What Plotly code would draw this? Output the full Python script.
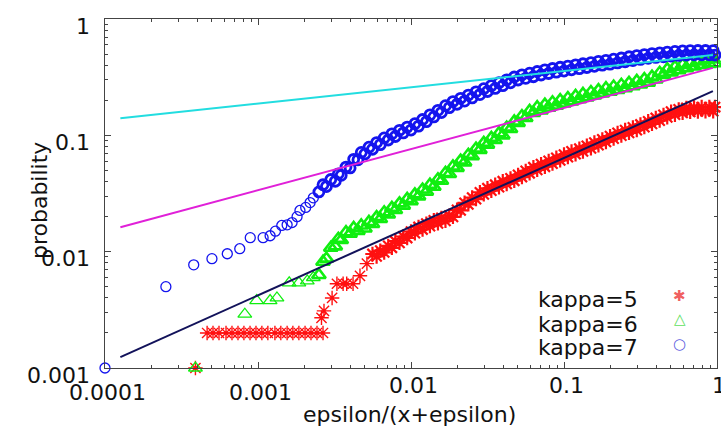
import math
import plotly.graph_objects as go

# ---------------- data ----------------
x_ticks = [0.0001, 0.001, 0.01, 0.1, 1]
x_tick_labels = ["0.0001", "0.001", "0.01", "0.1", "1"]
y_ticks = [0.001, 0.01, 0.1, 1]
y_tick_labels = ["0.001", "0.01", "0.1", "1"]

series_names = ["kappa=5", "kappa=6", "kappa=7"]

# epsilon/(x+epsilon) positions of the dense part of the curves (lower/centre edge of band)
x_dense = [0.0025, 0.0028, 0.0032, 0.0035, 0.0040, 0.0045, 0.0050, 0.0056, 0.0063, 0.0071,
           0.0079, 0.0089, 0.010, 0.0112, 0.0126, 0.0141, 0.0158, 0.0178, 0.020, 0.0224,
           0.0251, 0.0282, 0.0316, 0.0355, 0.0398, 0.0447, 0.0501, 0.0562, 0.0631, 0.0708,
           0.0794, 0.0891, 0.10, 0.112, 0.126, 0.141, 0.158, 0.178, 0.20, 0.224,
           0.251, 0.282, 0.316, 0.355, 0.398, 0.447, 0.501, 0.562, 0.631, 0.708,
           0.794, 0.891, 0.97]
# in-between positions (other edge of the band)
x_mid = [0.00266, 0.00299, 0.00335, 0.00376, 0.00422, 0.00473, 0.00531, 0.00596, 0.00668, 0.0075,
         0.00841, 0.00944, 0.0106, 0.0119, 0.0133, 0.0150, 0.0168, 0.0188, 0.0211, 0.0237,
         0.0266, 0.0299, 0.0335, 0.0376, 0.0422, 0.0473, 0.0531, 0.0596, 0.0668, 0.075,
         0.0841, 0.0944, 0.106, 0.119, 0.133, 0.150, 0.168, 0.188, 0.211, 0.237,
         0.266, 0.299, 0.335, 0.376, 0.422, 0.473, 0.531, 0.596, 0.668, 0.75,
         0.841, 0.944]

# kappa=5 (red asterisks)
k5_sparse_x = [0.00039, 0.000465, 0.000508, 0.000556, 0.000618, 0.000676, 0.00074, 0.000809,
               0.000887, 0.00097, 0.00106, 0.00116, 0.00129, 0.00141, 0.00155, 0.00169,
               0.00185, 0.00203, 0.00222, 0.00243, 0.00266, 0.0026, 0.0027, 0.00305,
               0.00328, 0.0036, 0.0038, 0.00418, 0.00464, 0.00515]
k5_sparse_y = [0.001, 0.002, 0.002, 0.002, 0.002, 0.002, 0.002, 0.002,
               0.002, 0.002, 0.002, 0.002, 0.002, 0.002, 0.002, 0.002,
               0.002, 0.002, 0.002, 0.002, 0.002, 0.0027, 0.0031, 0.0040,
               0.0053, 0.0053, 0.0053, 0.0053, 0.0062, 0.0079]
k5_dense_y = [0.00955, 0.0102, 0.0112, 0.0123, 0.0135, 0.0149, 0.0163, 0.0174, 0.0186, 0.0195,
              0.0204, 0.0229, 0.0263, 0.0292, 0.0324, 0.0351, 0.0376, 0.0403, 0.0427, 0.0457,
              0.0495, 0.0532, 0.0565, 0.0603, 0.0641, 0.0684, 0.0728, 0.0767, 0.0813, 0.0867,
              0.0923, 0.0984, 0.105, 0.111, 0.117, 0.124, 0.132, 0.141, 0.150, 0.160,
              0.167, 0.172, 0.174, 0.175, 0.175, 0.175]
k5_mid_y = [0.00909, 0.00984, 0.0108, 0.0119, 0.0131, 0.0144, 0.0155, 0.0166, 0.0175, 0.0184,
            0.0199, 0.0226, 0.0255, 0.0283, 0.0311, 0.0334, 0.0358, 0.0382, 0.0407, 0.0438,
            0.0472, 0.0505, 0.0537, 0.0572, 0.0610, 0.0650, 0.0688, 0.0727, 0.0773, 0.0823,
            0.0877, 0.0936, 0.0994, 0.1049, 0.1109, 0.1178, 0.1256, 0.1339, 0.1426, 0.1504,
            0.1559, 0.1592, 0.1605, 0.1610, 0.1610]

# kappa=6 (green triangles)
k6_sparse_x = [0.00039, 0.00082, 0.00098, 0.0012, 0.00133, 0.0016, 0.00185, 0.0021, 0.0023]
k6_sparse_y = [0.001, 0.0029, 0.0038, 0.0038, 0.0040, 0.0054, 0.0054, 0.0056, 0.0060]
k6_dense_y = [0.00631, 0.00871, 0.0111, 0.0126, 0.0143, 0.0151, 0.0158, 0.0173, 0.0191, 0.0209,
              0.0228, 0.0249, 0.0272, 0.0299, 0.0328, 0.0361, 0.0407, 0.0465, 0.0525, 0.0586,
              0.0661, 0.0750, 0.0832, 0.0912, 0.100, 0.1135, 0.128, 0.141, 0.156, 0.164,
              0.173, 0.180, 0.188, 0.196, 0.204, 0.212, 0.220, 0.229, 0.237, 0.245,
              0.254, 0.264, 0.274, 0.284, 0.302, 0.331, 0.348, 0.363, 0.378, 0.391,
              0.402, 0.411, 0.417]
k6_mid_y = [0.00819, 0.0108, 0.0129, 0.0147, 0.0160, 0.0168, 0.0180, 0.0198, 0.0218, 0.0238,
            0.0260, 0.0284, 0.0311, 0.0342, 0.0376, 0.0419, 0.0475, 0.0540, 0.0606, 0.0680,
            0.0769, 0.0862, 0.0950, 0.1042, 0.1164, 0.1316, 0.1466, 0.1619, 0.1744, 0.1837,
            0.1924, 0.2006, 0.2093, 0.2180, 0.2267, 0.2354, 0.2447, 0.2540, 0.2627, 0.2720,
            0.2823, 0.2932, 0.3041, 0.3194, 0.3450, 0.3701, 0.3875, 0.4038, 0.4191, 0.4322,
            0.4431, 0.4513]

# kappa=7 (blue circles)
k7_sparse_x = [0.0001, 0.00025, 0.00038, 0.0005, 0.00063, 0.00076, 0.00089, 0.00108, 0.0012,
               0.0013, 0.00143, 0.00155, 0.00167, 0.0018, 0.00188, 0.00205, 0.00219, 0.0023]
k7_sparse_y = [0.001, 0.0050, 0.0077, 0.0087, 0.0096, 0.0106, 0.0132, 0.0132, 0.0137,
               0.0150, 0.0168, 0.0170, 0.0178, 0.0200, 0.0226, 0.0240, 0.0264, 0.0290]
k7_dense_y = [0.0326, 0.0363, 0.0403, 0.0453, 0.0525, 0.0617, 0.0692, 0.0759, 0.0832, 0.0912,
              0.0977, 0.105, 0.111, 0.120, 0.131, 0.144, 0.157, 0.173, 0.185, 0.197,
              0.210, 0.224, 0.238, 0.253, 0.267, 0.283, 0.299, 0.309, 0.319, 0.330,
              0.340, 0.349, 0.357, 0.366, 0.374, 0.383, 0.392, 0.401, 0.409, 0.419,
              0.429, 0.440, 0.449, 0.459, 0.467, 0.473, 0.480, 0.486, 0.490, 0.492,
              0.492, 0.492, 0.490]
k7_mid_y = [0.0376, 0.0417, 0.0467, 0.0533, 0.0622, 0.0713, 0.0791, 0.0867, 0.0950, 0.1030,
            0.1105, 0.1177, 0.1259, 0.1368, 0.1499, 0.1640, 0.1799, 0.1951, 0.2082, 0.2218,
            0.2365, 0.2518, 0.2676, 0.2834, 0.2998, 0.3172, 0.3314, 0.3423, 0.3537, 0.3652,
            0.3755, 0.3848, 0.3940, 0.4033, 0.4126, 0.4224, 0.4322, 0.4415, 0.4513, 0.4622,
            0.4736, 0.4845, 0.4949, 0.5047, 0.5123, 0.5194, 0.5265, 0.5319, 0.5352, 0.5363,
            0.5363, 0.5352]

# fitted power-law lines (end points)
fit_x = [0.000126, 0.94]
fit_cyan_y = [0.14, 0.49]
fit_magenta_y = [0.0162, 0.38]
fit_navy_y = [0.00124, 0.24]

# ---------------- figure ----------------
FONT = "DejaVu Sans"
RED, GREEN, BLUE = "#ff1010", "#10ee10", "#1414ee"

k5_x = k5_sparse_x + x_dense[7:] + x_mid[7:]
k5_y = k5_sparse_y + k5_dense_y + k5_mid_y
k6_x = k6_sparse_x + x_dense + x_mid
k6_y = k6_sparse_y + k6_dense_y + k6_mid_y
k7_x = k7_sparse_x + x_dense + x_mid
k7_y = k7_sparse_y + k7_dense_y + k7_mid_y


def widths(n_sparse, n_total, thin, thick):
    # thin outlines where points are isolated, heavier where they pile up into a band
    return [thin] * n_sparse + [thick] * (n_total - n_sparse)


fig = go.Figure()
fig.add_trace(go.Scatter(x=k5_x, y=k5_y, mode="markers", name=series_names[0], cliponaxis=False,
                         marker=dict(symbol="asterisk-open", size=12, color=RED,
                                     line=dict(color=RED,
                                               width=widths(len(k5_sparse_x), len(k5_x), 1.4, 2.2)))))
fig.add_trace(go.Scatter(x=k6_x, y=k6_y, mode="markers", name=series_names[1], cliponaxis=False,
                         marker=dict(symbol="triangle-up-open", size=12, color=GREEN,
                                     line=dict(color=GREEN,
                                               width=widths(len(k6_sparse_x), len(k6_x), 1.3, 2.6)))))
fig.add_trace(go.Scatter(x=k7_x, y=k7_y, mode="markers", name=series_names[2], cliponaxis=False,
                         marker=dict(symbol="circle-open", size=10, color=BLUE,
                                     line=dict(color=BLUE,
                                               width=widths(len(k7_sparse_x), len(k7_x), 1.3, 2.8)))))
fig.add_trace(go.Scatter(x=fit_x, y=fit_cyan_y, mode="lines", line=dict(color="#22dde0", width=2),
                         showlegend=False))
fig.add_trace(go.Scatter(x=fit_x, y=fit_magenta_y, mode="lines", line=dict(color="#e020d8", width=2),
                         showlegend=False))
fig.add_trace(go.Scatter(x=fit_x, y=fit_navy_y, mode="lines", line=dict(color="#12125a", width=2),
                         showlegend=False))

minor_x = [m * 10.0 ** e for e in range(-4, 0) for m in range(2, 10)]
minor_y = [m * 10.0 ** e for e in range(-3, 0) for m in range(2, 10)]

axis_common = dict(type="log", showgrid=False, zeroline=False, showline=True,
                   linecolor="#444", linewidth=1, mirror="allticks",
                   ticks="inside", ticklen=6, tickcolor="#444",
                   showticklabels=False)

fig.update_xaxes(range=[-4, 0], tickmode="array", tickvals=x_ticks,
                 minor=dict(tickmode="array", tickvals=minor_x, ticks="inside", ticklen=3,
                            tickcolor="#444"),
                 **axis_common)
fig.update_yaxes(range=[-3, 0], tickmode="array", tickvals=y_ticks,
                 minor=dict(tickmode="array", tickvals=minor_y, ticks="inside", ticklen=3,
                            tickcolor="#444"),
                 **axis_common)

TICKFONT = dict(family=FONT, size=22, color="#111")
ann = []
# y tick labels, placed at the tick values
for v, t in zip(y_ticks, y_tick_labels):
    ann.append(dict(text=t, xref="paper", yref="paper", x=0, y=(math.log10(v) + 3) / 3,
                    xanchor="right", yanchor="middle", xshift=-13, yshift=-7, showarrow=False,
                    font=TICKFONT))
# x tick labels, placed at the tick values
x_label_shift = [-24, -24, -17, -17, -17]
for v, t, s in zip(x_ticks, x_tick_labels, x_label_shift):
    ann.append(dict(text=t, xref="paper", yref="paper", x=(math.log10(v) + 4) / 4, y=0,
                    xanchor="center", yanchor="middle", xshift=2, yshift=s, showarrow=False,
                    font=TICKFONT))
# axis titles
ann.append(dict(text="epsilon/(x+epsilon)", xref="paper", yref="paper", x=0.498, y=-0.132,
                xanchor="center", yanchor="middle", showarrow=False,
                font=dict(family=FONT, size=22, color="#111")))
ann.append(dict(text="probability", xref="paper", yref="paper", x=-0.108, y=0.481,
                xanchor="center", yanchor="middle", showarrow=False, textangle=-90,
                font=dict(family=FONT, size=22, color="#111")))
# legend (text left, symbol right)
leg_text_y = [0.195, 0.126, 0.060]
leg_sym_y = [0.207, 0.140, 0.068]
leg_syms = ["\u2731", "\u25B3", "\u25CB"]
leg_cols = ["#f06060", "#60e060", "#6060e0"]
for name, ty, sy, s, c in zip(series_names, leg_text_y, leg_sym_y, leg_syms, leg_cols):
    ann.append(dict(text=name, xref="paper", yref="paper", x=0.874, y=ty,
                    xanchor="right", yanchor="middle", showarrow=False,
                    font=dict(family=FONT, size=22, color="#111")))
    ann.append(dict(text=s, xref="paper", yref="paper", x=0.9395, y=sy,
                    xanchor="center", yanchor="middle", showarrow=False,
                    font=dict(family=FONT, size=15, color=c)))

fig.update_layout(width=721, height=432, margin=dict(l=105, r=4, t=19, b=64),
                  paper_bgcolor="white", plot_bgcolor="white", showlegend=False,
                  annotations=ann)

fig.write_html("out.html")
